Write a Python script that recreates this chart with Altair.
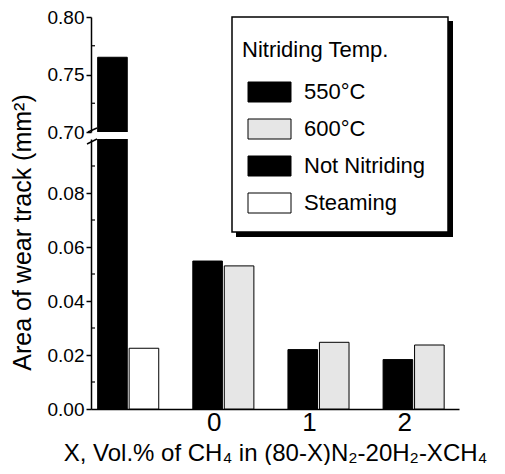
import altair as alt
import pandas as pd

# ---------------- data ----------------
groups = ["ref", "0", "1", "2"]
x_tick_labels = ["0", "1", "2"]
series = ["550\u00b0C", "600\u00b0C", "Not Nitriding", "Steaming"]
val_550 = [0.0548, 0.0220, 0.0183]
val_600 = [0.0530, 0.0247, 0.0237]
val_not_nitriding = 0.765
val_steaming = 0.0225
colors = ["#000000", "#e6e6e6", "#000000", "#ffffff"]
upper_ticks = [0.70, 0.75, 0.80]
lower_ticks = [0.00, 0.02, 0.04, 0.06, 0.08]
upper_minor = [0.725, 0.775]
lower_minor = [0.01, 0.03, 0.05, 0.07, 0.09]

rows = [
    {"group": groups[0], "series": series[2], "slot": "a", "value": val_not_nitriding},
    {"group": groups[0], "series": series[3], "slot": "b", "value": val_steaming},
]
for g, a, b in zip(x_tick_labels, val_550, val_600):
    rows.append({"group": g, "series": series[0], "slot": "a", "value": a})
    rows.append({"group": g, "series": series[1], "slot": "b", "value": b})
df = pd.DataFrame(rows)
one = pd.DataFrame({"k": [0]})

FONT = "Liberation Sans"
W = 368
H_UP = 115
H_LO = 270

x_scale = alt.Scale(domain=groups, paddingInner=0.358, paddingOuter=0.113, align=0.31)
xoff_scale = alt.Scale(domain=["a", "b"], paddingInner=0.06)
up_scale = alt.Scale(domain=[0.70, 0.80], nice=False, zero=False)
lo_scale = alt.Scale(domain=[0.0, 0.10], nice=False)
color_scale = alt.Scale(domain=series, range=colors)

y_axis_common = dict(
    format=".2f", labelFontSize=19, labelFont=FONT, labelColor="black",
    tickSize=5, tickWidth=1.5, tickColor="black", domainColor="black",
    domainWidth=1.5, labelPadding=2, grid=False,
)
up_axis = alt.Axis(values=upper_ticks, title=None, **y_axis_common)
lo_axis = alt.Axis(values=lower_ticks, title="Area of wear track (mm\u00b2)",
                   titleFont=FONT, titleFontSize=25, titleFontWeight="normal",
                   titleColor="black", titleY=93, titlePadding=12,
                   **y_axis_common)

# ---------------- upper panel ----------------
up_bars = alt.Chart(df).mark_bar(clip=True, stroke="black", strokeWidth=1).encode(
    x=alt.X("group:N", scale=x_scale, axis=None, sort=groups),
    xOffset=alt.XOffset("slot:N", scale=xoff_scale),
    y=alt.Y("value:Q", scale=up_scale, axis=up_axis),
    color=alt.Color(
        "series:N", scale=color_scale, sort=series,
        legend=alt.Legend(
            orient="none", legendX=151, legendY=23, padding=0,
            title="Nitriding Temp.", titleFont=FONT, titleFontSize=22,
            titleFontWeight="normal", titleColor="black", titlePadding=19,
            labelFont=FONT, labelFontSize=22, labelColor="black",
            symbolType="M-0.5,-1H3.8V1H-0.5Z", symbolSize=400,
            symbolStrokeColor="black", symbolStrokeWidth=1, symbolOpacity=1,
            labelOffset=40, rowPadding=13,
        ),
    ),
)
up_minor = alt.Chart(pd.DataFrame({"value": upper_minor})).mark_rule(
    color="black", strokeWidth=1.2
).encode(
    y=alt.Y("value:Q", scale=up_scale, axis=up_axis),
    x=alt.value(0), x2=alt.value(4),
)
up_break = alt.Chart(one).mark_rule(color="black", strokeWidth=1.5).encode(
    x=alt.value(-3), y=alt.value(H_UP), x2=alt.value(6), y2=alt.value(H_UP - 4)
)
legend_shadow = alt.Chart(one).mark_rect(color="black").encode(
    x=alt.value(145), x2=alt.value(362), y=alt.value(4), y2=alt.value(220)
)
legend_box = alt.Chart(one).mark_rect(fill="white", stroke="black", strokeWidth=1.5).encode(
    x=alt.value(141), x2=alt.value(357), y=alt.value(0), y2=alt.value(215)
)
upper = alt.layer(legend_shadow, legend_box, up_bars, up_minor, up_break).properties(
    width=W, height=H_UP
)

# ---------------- lower panel ----------------
x_lo_axis = alt.Axis(
    title="X, Vol.% of CH\u2084 in (80-X)N\u2082-20H\u2082-XCH\u2084",
    titleFont=FONT, titleFontSize=24, titleFontWeight="normal",
    titleColor="black", titlePadding=6,
    labelExpr="datum.value == 'ref' ? '' : datum.value",
    labelFont=FONT, labelFontSize=26, labelColor="black",
    labelAngle=0, labelOffset=-9, labelPadding=0,
    ticks=False, domainColor="black", domainWidth=1.5,
)
lo_bars = alt.Chart(df).mark_bar(clip=True, stroke="black", strokeWidth=1).encode(
    x=alt.X("group:N", scale=x_scale, sort=groups, axis=x_lo_axis),
    xOffset=alt.XOffset("slot:N", scale=xoff_scale),
    y=alt.Y("value:Q", scale=lo_scale, axis=lo_axis),
    color=alt.Color("series:N", scale=color_scale, sort=series, legend=None),
)
lo_minor = alt.Chart(pd.DataFrame({"value": lower_minor})).mark_rule(
    color="black", strokeWidth=1.2
).encode(
    y=alt.Y("value:Q", scale=lo_scale, axis=lo_axis),
    x=alt.value(0), x2=alt.value(4),
)
lo_break = alt.Chart(one).mark_rule(color="black", strokeWidth=1.5).encode(
    x=alt.value(-4), y=alt.value(5), x2=alt.value(6), y2=alt.value(0)
)
lower = alt.layer(lo_bars, lo_minor, lo_break).properties(width=W, height=H_LO)

chart = alt.vconcat(upper, lower, spacing=7, bounds="flush").resolve_scale(
    color="independent"
).properties(
    padding={"left": 2, "top": 0, "right": 0, "bottom": 0}
).configure(font=FONT, background="white").configure_view(stroke=None)

chart.save("out.html", embed_options={"renderer": "svg", "actions": False})
